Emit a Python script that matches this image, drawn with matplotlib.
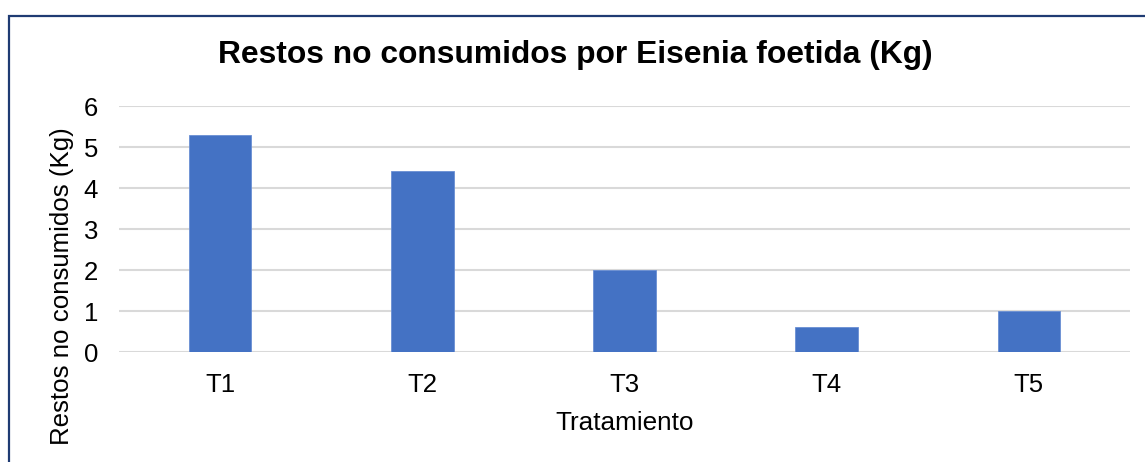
import matplotlib
matplotlib.use("Agg")
import matplotlib.pyplot as plt
from matplotlib.patches import Rectangle

categories = ["T1", "T2", "T3", "T4", "T5"]
values = [5.3, 4.42, 2.0, 0.61, 1.0]
yticks = [0, 1, 2, 3, 4, 5, 6]
title = "Restos no consumidos por Eisenia foetida (Kg)"
xlabel = "Tratamiento"
ylabel = "Restos no consumidos (Kg)"

plt.rcParams['font.family'] = ['Liberation Sans', 'DejaVu Sans']

W, H = 1145, 462
fig = plt.figure(figsize=(W / 100, H / 100), dpi=100)
fig.patch.set_facecolor("white")

ax = fig.add_axes([119 / W, 1 - 352 / H, (1130 - 119) / W, (352 - 106.5) / H])
x = range(len(categories))
ax.bar(x, values, width=0.31, color="#4472C4", edgecolor="#6A8FD3", linewidth=0.6, zorder=3)
ax.set_xlim(-0.5, len(categories) - 0.5)
ax.set_ylim(0, 6)
ax.set_yticks(yticks)
ax.set_xticks(list(x))
ax.set_xticklabels(categories)
ax.yaxis.grid(True, color="#D9D9D9", linewidth=1.5, zorder=0)
ax.set_axisbelow(True)
for s in ax.spines.values():
    s.set_visible(False)
ax.tick_params(axis="both", length=0, labelsize=18.5, colors="black")
ax.tick_params(axis="y", pad=15)
ax.tick_params(axis="x", pad=15)

ax.set_xlabel(xlabel, fontsize=18.8)
ax.xaxis.set_label_coords(0.5, (352 - 423) / (352 - 106.5))
ax.xaxis.label.set_va("center")
ax.set_ylabel(ylabel, fontsize=18.6)
ax.yaxis.set_label_coords((62 - 119) / (1130 - 119), (352 - 286.5) / (352 - 106.5))
ax.yaxis.label.set_va("center")

fig.text(575 / W, 1 - 55 / H, title, ha="center", va="center",
         fontsize=22.9, fontweight="bold")

fig.patches.append(Rectangle((9 / W, -0.2), 1.2, 1 - 16 / H + 0.2,
                             transform=fig.transFigure, fill=False,
                             edgecolor="#1F3B73", linewidth=1.6))

fig.savefig("out.png", dpi=100)
